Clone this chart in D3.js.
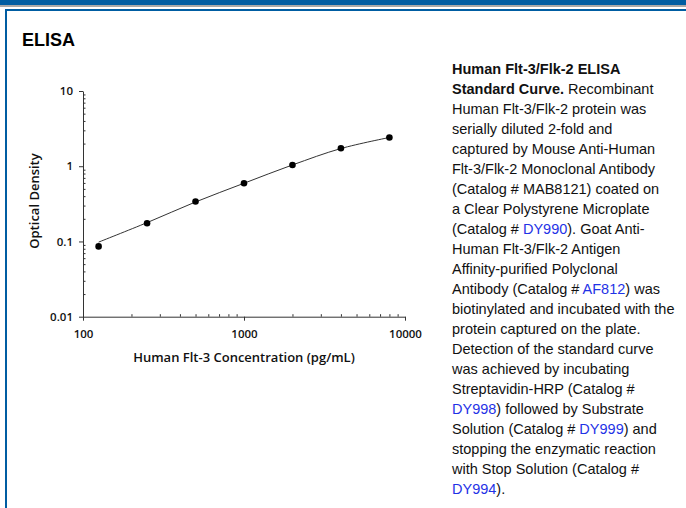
<!DOCTYPE html>
<html><head><meta charset="utf-8">
<script src="https://cdn.jsdelivr.net/npm/d3@7"></script>
<style>html,body{margin:0;padding:0;background:#fff;}svg{display:block;}</style>
</head><body>
<svg id="c" width="686" height="508"></svg>
<script>
// Data
const concentrations = [125, 250, 500, 1000, 2000, 4000, 8000];
const opticalDensity = [0.086, 0.175, 0.34, 0.594, 1.04, 1.73, 2.41];
const fitCurve = [0.098, 0.178, 0.335, 0.594, 1.04, 1.72, 2.41];
const xTickValues = [100, 1000, 10000];
const xTickLabels = ["100", "1000", "10000"];
const yTickValues = [0.01, 0.1, 1, 10];
const yTickLabels = ["0.01", "0.1", "1", "10"];

const captionLines = [
  [{t:"Human Flt-3/Flk-2 ELISA", b:true}],
  [{t:"Standard Curve.", b:true}, {t:" Recombinant"}],
  [{t:"Human Flt-3/Flk-2 protein was"}],
  [{t:"serially diluted 2-fold and"}],
  [{t:"captured by Mouse Anti-Human"}],
  [{t:"Flt-3/Flk-2 Monoclonal Antibody"}],
  [{t:"(Catalog # MAB8121) coated on"}],
  [{t:"a Clear Polystyrene Microplate"}],
  [{t:"(Catalog # "}, {t:"DY990", l:true}, {t:"). Goat Anti-"}],
  [{t:"Human Flt-3/Flk-2 Antigen"}],
  [{t:"Affinity-purified Polyclonal"}],
  [{t:"Antibody (Catalog # "}, {t:"AF812", l:true}, {t:") was"}],
  [{t:"biotinylated and incubated with the"}],
  [{t:"protein captured on the plate."}],
  [{t:"Detection of the standard curve"}],
  [{t:"was achieved by incubating"}],
  [{t:"Streptavidin-HRP (Catalog #"}],
  [{t:"DY998", l:true}, {t:") followed by Substrate"}],
  [{t:"Solution (Catalog # "}, {t:"DY999", l:true}, {t:") and"}],
  [{t:"stopping the enzymatic reaction"}],
  [{t:"with Stop Solution (Catalog #"}],
  [{t:"DY994", l:true}, {t:")."}]
];

const svg = d3.select("#c");
const blue = "#005da2";

// Frame
svg.append("rect").attr("x",0).attr("y",0).attr("width",686).attr("height",5).attr("fill",blue);
svg.append("rect").attr("x",0).attr("y",5).attr("width",686).attr("height",2).attr("fill","#a9a9a9");
svg.append("rect").attr("x",5).attr("y",9).attr("width",681).attr("height",2).attr("fill",blue);
svg.append("rect").attr("x",5).attr("y",9).attr("width",2).attr("height",499).attr("fill",blue);

svg.append("text").attr("x",22).attr("y",46)
  .attr("font-family","Liberation Sans, Arial, sans-serif").attr("font-weight","bold")
  .attr("font-size",18).attr("fill","#000").text("ELISA");

// Chart
const x = d3.scaleLog().domain([100, 10000]).range([83, 405]);
const y = d3.scaleLog().domain([0.01, 10]).range([316.7, 91]);
const axisColor = "#333";
const tickFont = "Open Sans, sans-serif";

function minorTicks(domain) {
  const out = [];
  for (let d = domain[0]; d < domain[1]; d *= 10) {
    for (let k = 2; k <= 9; k++) out.push(d * k);
  }
  return out;
}

const g = svg.append("g");

// Y axis
g.append("g").attr("transform","translate(83,0)")
  .call(d3.axisLeft(y).tickValues(yTickValues).tickFormat((d,i)=>yTickLabels[i]).tickSizeInner(4).tickSizeOuter(0).tickPadding(6));
const yMinor = g.append("g").attr("transform","translate(83,0)")
  .call(d3.axisLeft(y).tickValues(minorTicks([0.01,10])).tickFormat("").tickSizeInner(-2.5).tickSizeOuter(0));
yMinor.select(".domain").remove();

// X axis
g.append("g").attr("transform","translate(0,316.7)")
  .call(d3.axisBottom(x).tickValues(xTickValues).tickFormat((d,i)=>xTickLabels[i]).tickSizeInner(4).tickSizeOuter(0).tickPadding(9));
const xMinor = g.append("g").attr("transform","translate(0,316.7)")
  .call(d3.axisBottom(x).tickValues(minorTicks([100,10000])).tickFormat("").tickSizeInner(-2.5).tickSizeOuter(0));
xMinor.select(".domain").remove();

g.selectAll(".domain, .tick line").attr("stroke", axisColor).attr("stroke-width", 1);
g.selectAll(".tick text").attr("font-family", tickFont).attr("font-weight", 600)
  .attr("font-size", 11.5).attr("fill", "#111");

// Axis titles
svg.append("text").attr("x",244).attr("y",362).attr("text-anchor","middle")
  .attr("font-family",tickFont).attr("font-weight",600).attr("font-size",13).attr("fill","#111")
  .text("Human Flt-3 Concentration (pg/mL)");
svg.append("text").attr("transform","translate(39,201) rotate(-90)").attr("text-anchor","middle")
  .attr("font-family",tickFont).attr("font-weight",600).attr("font-size",13).attr("fill","#111")
  .text("Optical Density");

// Fit curve
const line = d3.line().x((d,i)=>x(concentrations[i])).y(d=>y(d)).curve(d3.curveCatmullRom.alpha(0.5));
g.append("path").datum(fitCurve).attr("d", line).attr("fill","none")
  .attr("stroke","#333").attr("stroke-width",1);

// Points
g.selectAll("circle.pt").data(opticalDensity).join("circle").attr("class","pt")
  .attr("cx",(d,i)=>x(concentrations[i])).attr("cy",d=>y(d)).attr("r",3.3).attr("fill","#000");

// Caption
const cap = svg.append("text").attr("font-family","Liberation Sans, Arial, sans-serif")
  .attr("font-size",14.5).attr("fill","#111");
captionLines.forEach((segs, i) => {
  const ln = cap.append("tspan").attr("x",452).attr("y",74 + i*20);
  segs.forEach((s, j) => {
    const ts = j === 0 ? ln : cap.append("tspan");
    ts.text(s.t);
    if (s.b) ts.attr("font-weight","bold");
    if (s.l) ts.attr("fill","#1f33e6");
  });
});
</script>
</body></html>
